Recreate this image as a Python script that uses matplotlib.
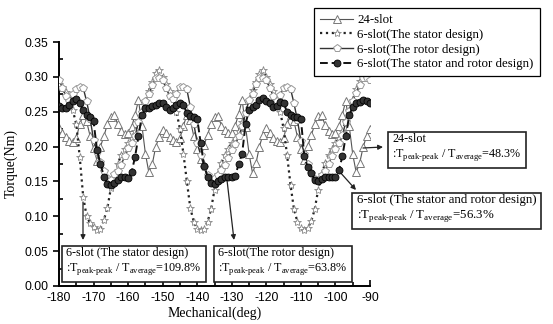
import matplotlib
matplotlib.use('Agg')
import matplotlib.pyplot as plt
import numpy as np

# mechanical angle, 1 deg steps
angle = list(range(-180, -89))

torque_24slot = [
    0.226, 0.220, 0.214, 0.208, 0.206, 0.212, 0.232, 0.245, 0.236, 0.215,
    0.198, 0.180, 0.200, 0.215, 0.232, 0.243, 0.245, 0.232, 0.222, 0.218,
    0.219, 0.228, 0.245, 0.267, 0.230, 0.190, 0.163, 0.175, 0.200, 0.214,
    0.224, 0.219, 0.214, 0.210, 0.206, 0.212, 0.230, 0.245, 0.238, 0.215,
    0.196, 0.182, 0.202, 0.217, 0.233, 0.243, 0.244, 0.230, 0.224, 0.219,
    0.219, 0.230, 0.247, 0.267, 0.228, 0.190, 0.162, 0.176, 0.200, 0.217,
    0.226, 0.220, 0.213, 0.208, 0.207, 0.212, 0.232, 0.246, 0.236, 0.214,
    0.197, 0.181, 0.201, 0.216, 0.232, 0.244, 0.245, 0.231, 0.222, 0.218,
    0.220, 0.229, 0.246, 0.266, 0.229, 0.189, 0.163, 0.176, 0.199, 0.215,
    0.225]

torque_stator = [
    0.290, 0.285, 0.278, 0.268, 0.252, 0.232, 0.185, 0.128, 0.100, 0.090,
    0.085, 0.080, 0.082, 0.095, 0.112, 0.140, 0.160, 0.175, 0.188, 0.197,
    0.205, 0.212, 0.222, 0.235, 0.250, 0.265, 0.280, 0.293, 0.305, 0.310,
    0.300, 0.290, 0.280, 0.268, 0.250, 0.225, 0.190, 0.150, 0.112, 0.092,
    0.082, 0.080, 0.082, 0.092, 0.110, 0.138, 0.160, 0.176, 0.188, 0.197,
    0.205, 0.212, 0.222, 0.235, 0.250, 0.266, 0.281, 0.293, 0.304, 0.310,
    0.300, 0.290, 0.280, 0.268, 0.250, 0.226, 0.188, 0.145, 0.110, 0.092,
    0.083, 0.080, 0.083, 0.093, 0.110, 0.138, 0.160, 0.176, 0.188, 0.197,
    0.205, 0.212, 0.222, 0.236, 0.252, 0.267, 0.282, 0.294, 0.303, 0.308,
    0.305]

torque_rotor = [
    0.296, 0.284, 0.272, 0.266, 0.275, 0.283, 0.285, 0.284, 0.265, 0.240,
    0.210, 0.192, 0.178, 0.165, 0.155, 0.152, 0.160, 0.165, 0.174, 0.186,
    0.198, 0.205, 0.215, 0.235, 0.250, 0.265, 0.275, 0.288, 0.298, 0.298,
    0.296, 0.284, 0.272, 0.268, 0.276, 0.286, 0.286, 0.282, 0.257, 0.233,
    0.205, 0.188, 0.171, 0.159, 0.152, 0.155, 0.159, 0.166, 0.174, 0.183,
    0.195, 0.203, 0.215, 0.229, 0.248, 0.267, 0.276, 0.290, 0.298, 0.298,
    0.295, 0.284, 0.273, 0.266, 0.274, 0.284, 0.286, 0.283, 0.262, 0.238,
    0.208, 0.190, 0.175, 0.162, 0.154, 0.152, 0.159, 0.165, 0.175, 0.186,
    0.197, 0.205, 0.216, 0.235, 0.251, 0.266, 0.277, 0.289, 0.298, 0.299,
    0.296]

torque_stator_rotor = [
    0.258, 0.255, 0.256, 0.260, 0.265, 0.268, 0.262, 0.252, 0.245, 0.242,
    0.236, 0.195, 0.175, 0.157, 0.147, 0.145, 0.148, 0.152, 0.156, 0.156,
    0.155, 0.163, 0.185, 0.215, 0.245, 0.255, 0.256, 0.258, 0.260, 0.262,
    0.262, 0.257, 0.253, 0.256, 0.260, 0.262, 0.260, 0.248, 0.244, 0.242,
    0.240, 0.205, 0.172, 0.157, 0.148, 0.146, 0.150, 0.154, 0.157, 0.157,
    0.157, 0.158, 0.175, 0.190, 0.233, 0.252, 0.257, 0.260, 0.267, 0.270,
    0.266, 0.262, 0.257, 0.258, 0.264, 0.262, 0.250, 0.245, 0.243, 0.242,
    0.240, 0.186, 0.170, 0.162, 0.152, 0.150, 0.154, 0.157, 0.157, 0.157,
    0.157, 0.166, 0.186, 0.215, 0.245, 0.257, 0.262, 0.264, 0.267, 0.265,
    0.262]

legend_labels = ['24-slot', '6-slot(The stator design)',
                 '6-slot(The rotor design)', '6-slot(The stator and rotor design)']

serif = ['Liberation Serif', 'DejaVu Serif']
sans = ['Liberation Sans', 'DejaVu Sans']
plt.rcParams['font.family'] = serif
plt.rcParams['mathtext.fontset'] = 'custom'
plt.rcParams['mathtext.rm'] = 'Liberation Serif'
plt.rcParams['axes.unicode_minus'] = False

W, H = 553, 324
fig = plt.figure(figsize=(W / 100, H / 100), dpi=100)
ax = fig.add_axes([59 / W, 1 - 286 / H, (370 - 59) / W, (286 - 42) / H])

l1, = ax.plot(angle, torque_24slot, '-', color='#555555', lw=0.8, marker='^',
              ms=6, mfc='white', mec='#777777', mew=0.7, zorder=2)
l2, = ax.plot(angle, torque_stator, ':', color='#222222', lw=1.6, marker='*',
              ms=6, mfc='white', mec='#888888', mew=0.6, zorder=3)
l3, = ax.plot(angle, torque_rotor, '-', color='#333333', lw=1.0, marker='p',
              ms=6, mfc='white', mec='#999999', mew=0.7, zorder=4)
l4, = ax.plot(angle, torque_stator_rotor, '--', color='#111111', lw=1.4,
              dashes=(4, 2), marker='o', ms=5, mfc='#333333', mec='black',
              mew=0.6, zorder=5)

ax.set_xlim(-180, -90)
ax.set_ylim(0, 0.35)
ax.set_xticks(np.arange(-180, -89, 10))
ax.set_xticks(np.arange(-180, -89, 5), minor=True)
ax.set_yticks(np.arange(0, 0.351, 0.05))
ax.set_yticks(np.arange(0, 0.351, 0.025), minor=True)
ax.set_yticklabels(['%.2f' % v for v in np.arange(0, 0.351, 0.05)])
for s in ['top', 'right']:
    ax.spines[s].set_visible(False)
for s in ['left', 'bottom']:
    ax.spines[s].set_linewidth(1.4)
ax.tick_params(axis='x', which='both', direction='in', width=1.2)
ax.tick_params(axis='x', which='major', length=4, pad=4)
ax.tick_params(axis='x', which='minor', length=3)
ax.tick_params(axis='y', which='major', direction='out', length=4, width=1.2)
ax.tick_params(axis='y', which='minor', direction='in', length=3, width=1.2)
for lab in ax.get_xticklabels() + ax.get_yticklabels():
    lab.set_family(sans)
    lab.set_fontsize(8.8)
ax.set_xlabel('Mechanical(deg)', fontsize=10, labelpad=2)
ax.set_ylabel('Torque(Nm)', fontsize=10, labelpad=5)

leg = fig.legend([l1, l2, l3, l4], legend_labels, loc='upper right',
                 bbox_to_anchor=(546 / W, 1 - 2 / H), fontsize=9.3,
                 handlelength=2.6, handletextpad=0.3, labelspacing=0.2,
                 borderpad=0.45, fancybox=False, framealpha=1, edgecolor='black')
leg.get_frame().set_linewidth(0.9)


def box(x, y, lines, size=8.7):
    fig.text(x / W, 1 - y / H, lines, fontsize=size, ha='left', va='top',
             linespacing=1.25,
             bbox=dict(boxstyle='square,pad=0.35', fc='white', ec='#222222', lw=1.2))


sub = r':T$_{\mathrm{peak\text{-}peak}}$ / T$_{\mathrm{average}}$='
box(66, 247, '6-slot (The stator design)\n' + sub + '109.8%')
box(218, 247, '6-slot(The rotor design)\n' + sub + '63.8%')
box(392, 133, '24-slot\n' + sub + '48.3%')
box(357, 194, '6-slot (The stator and rotor design)\n' + sub + '56.3%', size=9.3)


def arrow(x0, y0, x1, y1):
    ax.annotate('', xy=(x1, H - y1), xytext=(x0, H - y0),
                xycoords='figure pixels', textcoords='figure pixels',
                arrowprops=dict(arrowstyle='-|>', color='#222222', lw=0.9,
                                mutation_scale=7, shrinkA=0, shrinkB=0))


arrow(83, 202, 83, 240)
arrow(227, 180, 234, 240)
arrow(363, 148, 383, 147)
arrow(339, 171, 356, 190)

fig.savefig('out.png', dpi=100, facecolor='white')
